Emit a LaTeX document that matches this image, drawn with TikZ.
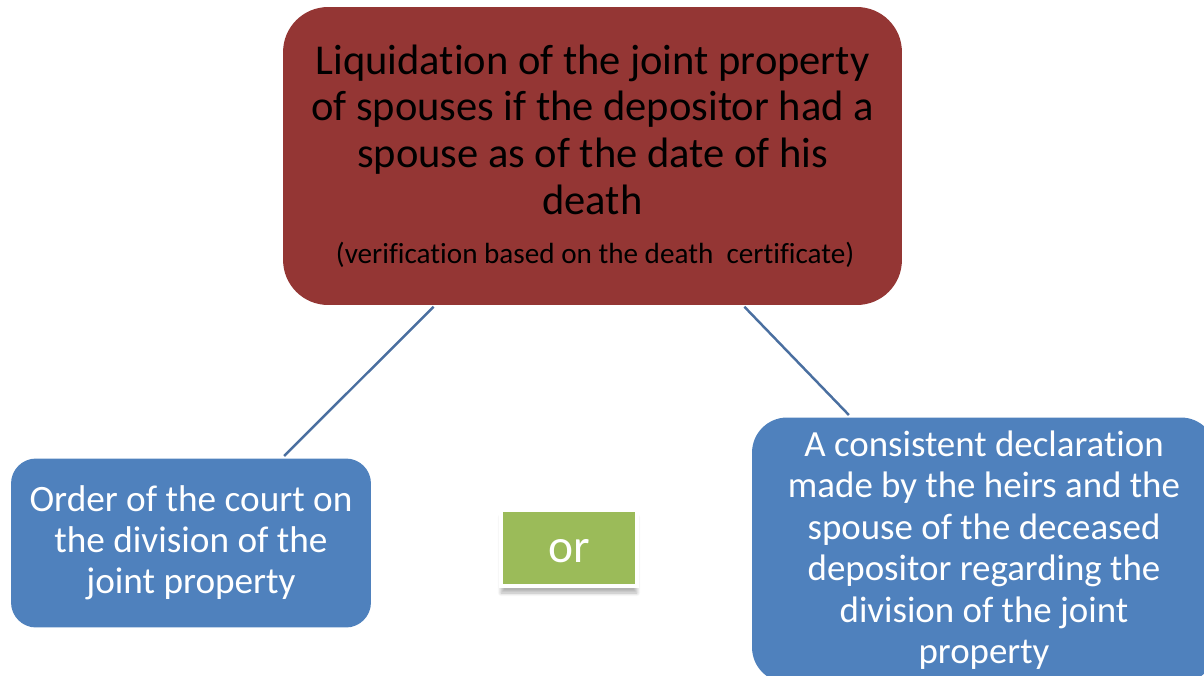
\documentclass[tikz,border=0pt]{standalone}
\usepackage{fontspec}
\setmainfont{Carlito}[Ligatures={NoCommon,NoContextual}]
\usetikzlibrary{calc,shadows.blur}
\definecolor{deathred}{RGB}{148,54,52}
\definecolor{heirblue}{RGB}{79,129,189}
\definecolor{orgreen}{RGB}{155,187,89}
\definecolor{linkblue}{RGB}{74,111,160}

\begin{document}
\begin{tikzpicture}[x=0.02cm, y=-0.02cm,
	box/.style={rounded corners=#1, align=center, inner sep=0pt},
	link/.style={draw=linkblue, line width=1.4pt, shorten <=0.04cm, shorten >=0.06cm}]
	\useasboundingbox (0,0) rectangle (1204,676);
	\clip (0,0) rectangle (1204,676);
	\node[box=0.9cm, fill=deathred, minimum width=12.38cm, minimum height=5.96cm,
		font=\fontsize{24.2}{26.7}\selectfont] (top) at (592.5,156)
		{Liquidation of the joint property\\ of spouses if the depositor had a\\
		spouse as of the date of his\\ death\\[1pt]
		{\fontsize{16.6}{18}\selectfont\hspace{3pt}(verification based on the death\ \ certificate)}};
	\node[box=0.5cm, fill=heirblue, text=white, minimum width=7.2cm, minimum height=3.38cm,
		font=\fontsize{21.2}{23.3}\selectfont] (court) at (191,543)
		{Order of the court on\\ the division of the\\ joint property};
	\node[box=0.7cm, fill=heirblue, text=white, minimum width=9.28cm, minimum height=5.3cm,
		font=\fontsize{21}{23.6}\selectfont] (decl) at (984,550)
		{A consistent declaration\\ made by the heirs and the\\ spouse of the deceased\\
		depositor regarding the\\ division of the joint\\ property};
	\node[fill=orgreen, draw=white, line width=2pt, text=white, minimum width=2.72cm,
		minimum height=1.52cm, text height=17pt, text depth=0pt, font=\fontsize{27}{32}\selectfont,
		blur shadow={shadow xshift=0cm, shadow yshift=-0.14cm, shadow opacity=30, shadow blur steps=8}] (or) at (569,548) {or};
	\draw[link] ($(top.south)+(-157.5,0)$) -- ($(court.north)+(91,0)$);
	\draw[link] ($(top.south)+(150.5,0)$) -- ($(decl.north)+(-133,0)$);
\end{tikzpicture}
\end{document}
